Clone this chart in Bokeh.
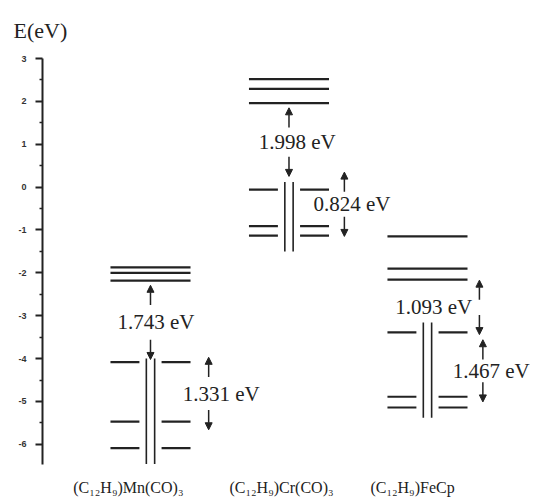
from bokeh.plotting import figure
from bokeh.models import ColumnDataSource, Arrow, NormalHead, FixedTicker, Range1d, LinearAxis
from bokeh.core.properties import value
from bokeh.embed import file_html
from bokeh.resources import INLINE

# ---------------- data ----------------
compounds = ["(C\u2081\u2082H\u2089)Mn(CO)\u2083", "(C\u2081\u2082H\u2089)Cr(CO)\u2083", "(C\u2081\u2082H\u2089)FeCp"]
compound_pos = [1, 2, 3]

# unoccupied (upper) levels, eV
mn_unocc = [-1.87, -2.00, -2.18]
cr_unocc = [2.52, 2.29, 1.96]
fe_unocc = [-1.15, -1.90, -2.16]
# occupied (lower) levels, eV
mn_occ = [-4.08, -5.47, -6.09]
cr_occ = [-0.06, -0.91, -1.13]
fe_occ = [-3.39, -4.89, -5.14]
# span of the double vertical line through occupied levels
vline_top = [-4.00, 0.12, -3.16]
vline_bottom = [-6.46, -1.50, -5.38]

# energy gaps: compound index, label, arrow tip energies
gap_compound = [0, 0, 1, 1, 2, 2]
gap_labels = ["1.743 eV", "1.331 eV", "1.998 eV", "0.824 eV", "1.093 eV", "1.467 eV"]
gap_top = [-2.29, -3.97, 1.85, 0.35, -2.17, -3.56]
gap_bottom = [-4.02, -5.66, 0.25, -1.15, -3.44, -5.01]

y_ticks = [-6, -5, -4, -3, -2, -1, 0, 1, 2, 3]
y_tick_labels = ["-6", "-5", "-4", "-3", "-2", "-1", "0", "1", "2", "3"]
y_minor = [-5.5, -4.5, -3.5, -2.5, -1.5, -0.5, 0.5, 1.5, 2.5]

# ---------------- layout / style ----------------
HW = 0.289      # half width of a level line
GAP = 0.08      # half gap of split occupied levels
VOFF = 0.03     # offset of double vertical lines
ARROW_LEN = 0.46
arrow_dx = [0.0, 0.42, 0.0, 0.40, 0.375, 0.40]
text_dx = [0.04, 0.09, 0.06, 0.055, -0.33, 0.06]
label_dx = [-0.16, -0.054, -0.108]
INK = "#222222"

unocc = [mn_unocc, cr_unocc, fe_unocc]
occ = [mn_occ, cr_occ, fe_occ]

p = figure(width=535, height=498,
           x_range=Range1d(0.2202, 3.78), y_range=Range1d(-6.47, 3.0),
           x_axis_type=None, output_backend="svg", toolbar_location=None,
           min_border_left=42, min_border_right=0, min_border_top=58, min_border_bottom=30)
p.outline_line_color = None
p.xgrid.grid_line_color = None
p.ygrid.grid_line_color = None
p.background_fill_color = "white"
p.border_fill_color = "white"

# level lines
x0, x1, y0 = [], [], []
for i, cx in enumerate(compound_pos):
    for e in unocc[i]:
        x0.append(cx - HW); x1.append(cx + HW); y0.append(e)
    for e in occ[i]:
        x0.append(cx - HW); x1.append(cx - GAP); y0.append(e)
        x0.append(cx + GAP); x1.append(cx + HW); y0.append(e)
p.segment(x0=x0, y0=y0, x1=x1, y1=y0, line_color=INK, line_width=2.2)

# double vertical lines
vx, vt, vb = [], [], []
for i, cx in enumerate(compound_pos):
    for s in (-VOFF, VOFF):
        vx.append(cx + s); vt.append(vline_top[i]); vb.append(vline_bottom[i])
p.segment(x0=vx, y0=vt, x1=vx, y1=vb, line_color=INK, line_width=1.6)

# gap arrows and labels
xs, ys, xe, ye = [], [], [], []
tx, ty = [], []
for k, ci in enumerate(gap_compound):
    axp = compound_pos[ci] + arrow_dx[k]
    xs += [axp, axp]
    ys += [gap_top[k] - ARROW_LEN, gap_bottom[k] + ARROW_LEN]
    xe += [axp, axp]
    ye += [gap_top[k], gap_bottom[k]]
    tx.append(axp + text_dx[k])
    ty.append((gap_top[k] + gap_bottom[k]) / 2)
arrow_src = ColumnDataSource(dict(xs=xs, ys=ys, xe=xe, ye=ye))
p.add_layout(Arrow(x_start="xs", y_start="ys", x_end="xe", y_end="ye", source=arrow_src,
                   line_color=INK, line_width=1.5,
                   end=NormalHead(size=7, fill_color=INK, line_color=INK, line_width=1)))
p.text(x=tx, y=ty, text=gap_labels, text_align="center", text_baseline="middle",
       text_font=value("Liberation Serif"), text_font_size="21px", text_color=INK)

# y axis
ax = p.yaxis[0]
ax.ticker = FixedTicker(ticks=y_ticks, minor_ticks=y_minor)
ax.major_label_overrides = {t: s for t, s in zip(y_ticks, y_tick_labels)}
ax.axis_line_color = INK
ax.axis_line_width = 2
ax.major_tick_line_color = INK
ax.major_tick_line_width = 2
ax.major_tick_out = 7
ax.major_tick_in = 0
ax.minor_tick_line_color = INK
ax.minor_tick_line_width = 1.5
ax.minor_tick_out = 3
ax.minor_tick_in = 0
ax.major_label_text_font = "Liberation Sans"
ax.major_label_text_font_style = "bold"
ax.major_label_text_font_size = "9px"
ax.major_label_text_color = "#333333"
ax.major_label_standoff = 9

# axis title (as plot title, top-left)
p.title.text = "E(eV)"
p.title.align = "left"
p.title.offset = -29
p.title.text_font = "Liberation Serif"
p.title.text_font_size = "22px"
p.title.text_font_style = "normal"
p.title.text_color = INK
p.title.standoff = 28
p.title.vertical_align = "top"

# compound labels on an invisible bottom axis
label_pos = [compound_pos[i] + label_dx[i] for i in range(len(compounds))]
xax = LinearAxis(ticker=FixedTicker(ticks=label_pos),
                 major_label_overrides={t: s for t, s in zip(label_pos, compounds)})
xax.axis_line_color = None
xax.major_tick_line_color = None
xax.minor_tick_line_color = None
xax.major_label_standoff = 8
xax.major_label_text_font = "Liberation Serif"
xax.major_label_text_font_size = "16px"
xax.major_label_text_color = INK
p.add_layout(xax, "below")

open("out.html", "w").write(file_html(p, INLINE))
